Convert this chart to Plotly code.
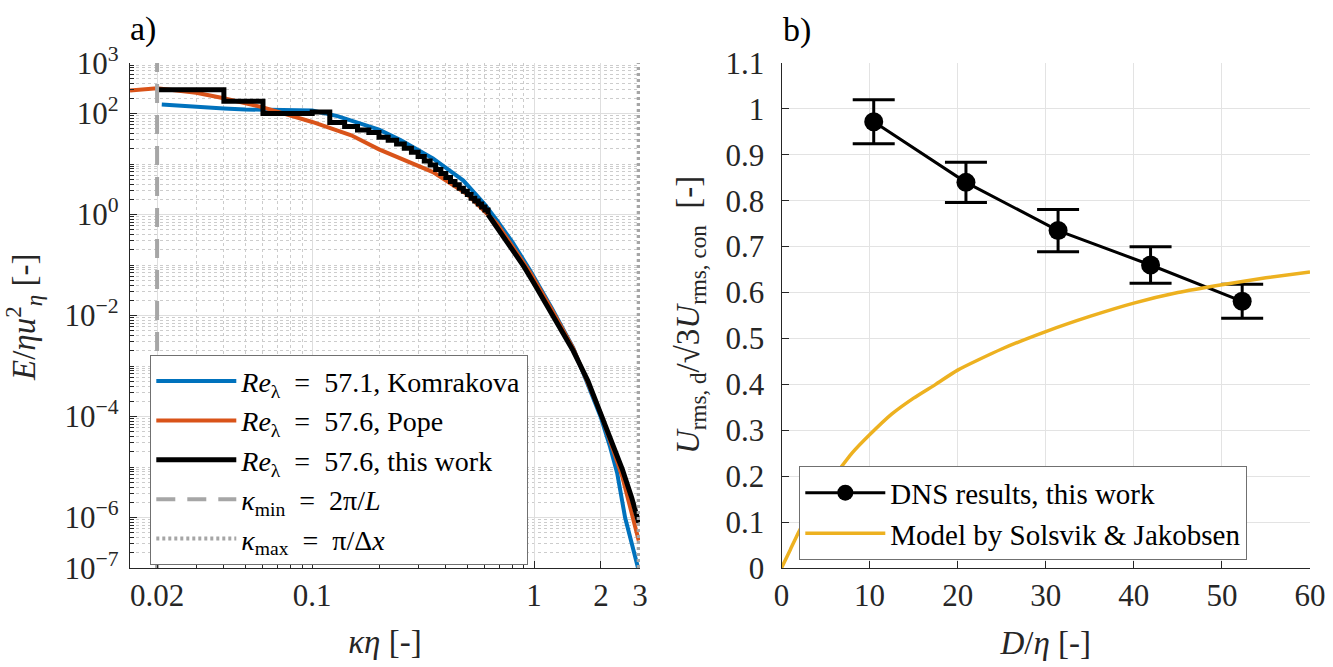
import plotly.graph_objects as go

FONT = "Liberation Serif"
BLUE = "#0072BD"
ORANGE = "#D95319"
YELLOW = "#EDB120"
GRAY = "#A6A6A6"
AX = "#262626"

# ---------------- panel a) energy spectra ----------------
komrakova_k = [0.021, 0.031, 0.04, 0.05, 0.07, 0.1, 0.13, 0.2, 0.25, 0.35, 0.48, 0.6, 0.68, 0.8,
               0.96, 1.2, 1.5, 2.0, 2.2, 2.37, 2.57, 2.75, 2.92, 2.98]
komrakova_E = [151, 132, 126, 120, 117, 115, 89, 48, 30, 12.9, 4.7, 1.58, 0.76, 0.28,
               0.078, 0.0141, 2.3e-3, 9.5e-5, 2.5e-5, 7.4e-6, 1.0e-6, 3.2e-7, 1.26e-7, 7.9e-8]

pope_k = [0.0151, 0.02, 0.03, 0.04, 0.06, 0.1, 0.15, 0.2, 0.35, 0.5, 0.68, 0.96, 1.2, 1.5,
          2.0, 2.5, 2.96]
pope_E = [285, 316, 257, 200, 132, 68, 37, 19.5, 6.9, 2.5, 0.66, 0.071, 0.0132, 2.24e-3,
          1.12e-4, 6.3e-6, 3.5e-7]

# this work: shell-averaged spectrum (stairs at shell wavenumbers)
work_shell_k = [0.02, 0.04, 0.06, 0.08, 0.10, 0.12, 0.14, 0.16, 0.18, 0.20, 0.22, 0.24, 0.26,
                0.28, 0.30, 0.32, 0.34, 0.36, 0.38, 0.40, 0.42, 0.44, 0.46, 0.48, 0.50, 0.52,
                0.54, 0.56, 0.58, 0.60, 0.62]
work_shell_E = [295, 174, 100, 100, 107, 66, 55, 47, 42, 34, 29.5, 25, 20.4, 17, 14.1, 11.5,
                9.5, 7.8, 6.5, 5.4, 4.5, 3.9, 3.3, 2.9, 2.5, 2.1, 1.86, 1.62, 1.41, 1.23, 1.0]
work_tail_k = [0.62, 0.7, 0.8, 0.9, 1.0, 1.2, 1.5, 1.75, 2.0, 2.25, 2.5, 2.75, 2.96]
work_tail_E = [1.0, 0.47, 0.21, 0.093, 0.043, 0.0105, 2.0e-3, 5.0e-4, 1.15e-4, 3.2e-5,
               8.9e-6, 2.5e-6, 7.9e-7]

kappa_min = 0.02
kappa_max = 2.96
E_lim = [1e-7, 1e3]

# ---------------- panel b) droplet velocity ----------------
D_eta = [10.47, 20.94, 31.4, 41.9, 52.3]
U_ratio = [0.972, 0.840, 0.735, 0.660, 0.581]
U_err = [0.048, 0.044, 0.046, 0.040, 0.037]

D_model = [0, 1, 2, 3, 4, 5, 6, 8, 10, 12.5, 15, 17.5, 20, 25, 30, 35, 40, 45, 50, 55, 60]
U_model = [0, 0.04, 0.08, 0.115, 0.145, 0.175, 0.2, 0.25, 0.29, 0.335, 0.37, 0.40, 0.431,
           0.477, 0.515, 0.548, 0.577, 0.600, 0.617, 0.632, 0.645]

SP = "\u2002"  # wide space around '=' like LaTeX math

fig = go.Figure()

fig.add_trace(go.Scatter(x=komrakova_k, y=komrakova_E, mode="lines",
                         line=dict(color=BLUE, width=4),
                         name=f"<i>Re</i><sub>λ</sub>{SP}={SP}57.1, Komrakova", legend="legend"))
fig.add_trace(go.Scatter(x=pope_k, y=pope_E, mode="lines",
                         line=dict(color=ORANGE, width=4),
                         name=f"<i>Re</i><sub>λ</sub>{SP}={SP}57.6, Pope", legend="legend"))
fig.add_trace(go.Scatter(x=work_shell_k, y=work_shell_E, mode="lines",
                         line=dict(color="black", width=5, shape="hv"),
                         name=f"<i>Re</i><sub>λ</sub>{SP}={SP}57.6, this work",
                         legendgroup="work", legend="legend"))
fig.add_trace(go.Scatter(x=work_tail_k, y=work_tail_E, mode="lines",
                         line=dict(color="black", width=5),
                         legendgroup="work", showlegend=False, legend="legend"))
fig.add_trace(go.Scatter(x=[kappa_min, kappa_min], y=E_lim, mode="lines",
                         line=dict(color=GRAY, width=4, dash="19px,12px"),
                         name=f"<i>κ</i><sub>min</sub>{SP}={SP}2π/<i>L</i>", legend="legend"))
fig.add_trace(go.Scatter(x=[kappa_max, kappa_max], y=E_lim, mode="lines",
                         line=dict(color=GRAY, width=4, dash="3px,3px"),
                         name=f"<i>κ</i><sub>max</sub>{SP}={SP}π/Δ<i>x</i>", legend="legend"))

fig.add_trace(go.Scatter(x=D_eta, y=U_ratio, mode="lines+markers",
                         line=dict(color="black", width=3),
                         marker=dict(color="black", size=19, symbol="circle"),
                         error_y=dict(type="data", array=U_err, color="black",
                                      thickness=3, width=21),
                         name="DNS results, this work", xaxis="x2", yaxis="y2",
                         legend="legend2"))
fig.add_trace(go.Scatter(x=D_model, y=U_model, mode="lines",
                         line=dict(color=YELLOW, width=3.5, shape="spline", smoothing=0.6),
                         name="Model by Solsvik &amp; Jakobsen", xaxis="x2", yaxis="y2",
                         legend="legend2"))

tickfont = dict(family=FONT, size=31, color=AX)
titlefont = dict(family=FONT, size=33, color=AX)

x_minor = [m * 10 ** e for e in (-2, -1, 0) for m in range(1, 10)]
x_minor = [v for v in x_minor if 0.0151 <= v <= 3.0 and round(v, 4) not in (0.02, 0.1, 1.0, 2.0, 3.0)]
y_major = [1e-7, 1e-6, 1e-4, 1e-2, 1e0, 1e2, 1e3]
y_minor = [m * 10.0 ** e for e in range(-7, 3) for m in range(1, 10)]
y_minor = [v for v in y_minor if all(abs(v - t) / t > 1e-6 for t in y_major)]

Y_DOM = [1 - 568 / 667, 1 - 63 / 667]

fig.update_layout(
    width=1333, height=667,
    margin=dict(l=0, r=0, t=0, b=0),
    paper_bgcolor="white", plot_bgcolor="white",
    font=dict(family=FONT, color="black"),
    xaxis=dict(
        type="log", domain=[130 / 1333, 640 / 1333], anchor="y",
        range=[-1.821, 0.4771],
        tickvals=[0.02, 0.1, 1, 2, 3], ticktext=["0.02", "0.1", "1", "2", "3"],
        showline=True, linecolor=AX, linewidth=1.3, ticks="inside", ticklen=7,
        tickcolor=AX, tickfont=tickfont, showgrid=True, gridcolor="#dedede",
        zeroline=False,
        minor=dict(tickmode="array", tickvals=x_minor, ticks="inside", ticklen=4,
                   tickcolor=AX, showgrid=True, gridcolor="#cccccc", griddash="dot",
                   gridwidth=1),
        title=dict(text="<i>κη</i> [-]", font=titlefont, standoff=17),
        automargin=False,
    ),
    yaxis=dict(
        type="log", domain=Y_DOM, anchor="x",
        range=[-7, 3],
        tickvals=y_major,
        ticktext=["10<sup>−7</sup>", "10<sup>−6</sup>", "10<sup>−4</sup>", "10<sup>−2</sup>",
                  "10<sup>0</sup>", "10<sup>2</sup>", "10<sup>3</sup>"],
        showline=True, linecolor=AX, linewidth=1.3, ticks="inside", ticklen=7,
        tickcolor=AX, tickfont=tickfont, showgrid=True, gridcolor="#dedede",
        zeroline=False, ticklabelstandoff=4,
        minor=dict(tickmode="array", tickvals=y_minor, ticks="inside", ticklen=4,
                   tickcolor=AX, showgrid=True, gridcolor="#cccccc", griddash="dot",
                   gridwidth=1),
        automargin=False,
    ),
    xaxis2=dict(
        domain=[781.5 / 1333, 1310 / 1333], anchor="y2", range=[0, 60],
        tickvals=[0, 10, 20, 30, 40, 50, 60],
        showline=True, linecolor=AX, linewidth=1.3, ticks="inside", ticklen=7,
        tickcolor=AX, tickfont=tickfont, showgrid=True, gridcolor="#e3e3e3",
        zeroline=False,
        title=dict(text="<i>D</i>/<i>η</i> [-]", font=titlefont, standoff=18),
        automargin=False,
    ),
    yaxis2=dict(
        domain=Y_DOM, anchor="x2", range=[0, 1.1],
        tickvals=[0, 0.1, 0.2, 0.3, 0.4, 0.5, 0.6, 0.7, 0.8, 0.9, 1.0, 1.1],
        ticktext=["0", "0.1", "0.2", "0.3", "0.4", "0.5", "0.6", "0.7", "0.8", "0.9", "1", "1.1"],
        showline=True, linecolor=AX, linewidth=1.3, ticks="inside", ticklen=7,
        tickcolor=AX, tickfont=tickfont, showgrid=True, gridcolor="#e3e3e3",
        zeroline=False, ticklabelstandoff=10,
        automargin=False,
    ),
    legend=dict(
        x=150 / 1333, y=1 - 355 / 667, xanchor="left", yanchor="top",
        bgcolor="white", bordercolor="#707070", borderwidth=1.3,
        font=dict(family=FONT, size=28, color="black"),
        tracegroupgap=0, itemwidth=80,
    ),
    legend2=dict(
        x=799 / 1333, y=1 - 466 / 667, xanchor="left", yanchor="top",
        bgcolor="white", bordercolor="#707070", borderwidth=1.3,
        font=dict(family=FONT, size=29, color="black"),
        itemwidth=80,
    ),
    annotations=[
        dict(text="a)", x=128 / 1333, y=1 - 8 / 667, xref="paper", yref="paper",
             xanchor="left", yanchor="top", showarrow=False,
             font=dict(family=FONT, size=34, color="black")),
        dict(text="b)", x=781 / 1333, y=1 - 9 / 667, xref="paper", yref="paper",
             xanchor="left", yanchor="top", showarrow=False,
             font=dict(family=FONT, size=34, color="black")),
        dict(text="<i>E</i>/<i>ηu</i><sup>2</sup><sub><i>η</i></sub> [-]",
             x=24 / 1333, y=1 - 318 / 667, xref="paper", yref="paper",
             xanchor="center", yanchor="middle", textangle=-90, showarrow=False,
             font=dict(family=FONT, size=33, color=AX)),
        dict(text="<i>U</i><sub>rms, d</sub>/√3<i>U</i><sub>rms, con</sub>  [-]",
             x=690 / 1333, y=1 - 315 / 667, xref="paper", yref="paper",
             xanchor="center", yanchor="middle", textangle=-90, showarrow=False,
             font=dict(family=FONT, size=33, color=AX)),
    ],
)

fig.write_html("out.html", config={"displayModeBar": False},
               post_script="document.body.style.margin='0';")
